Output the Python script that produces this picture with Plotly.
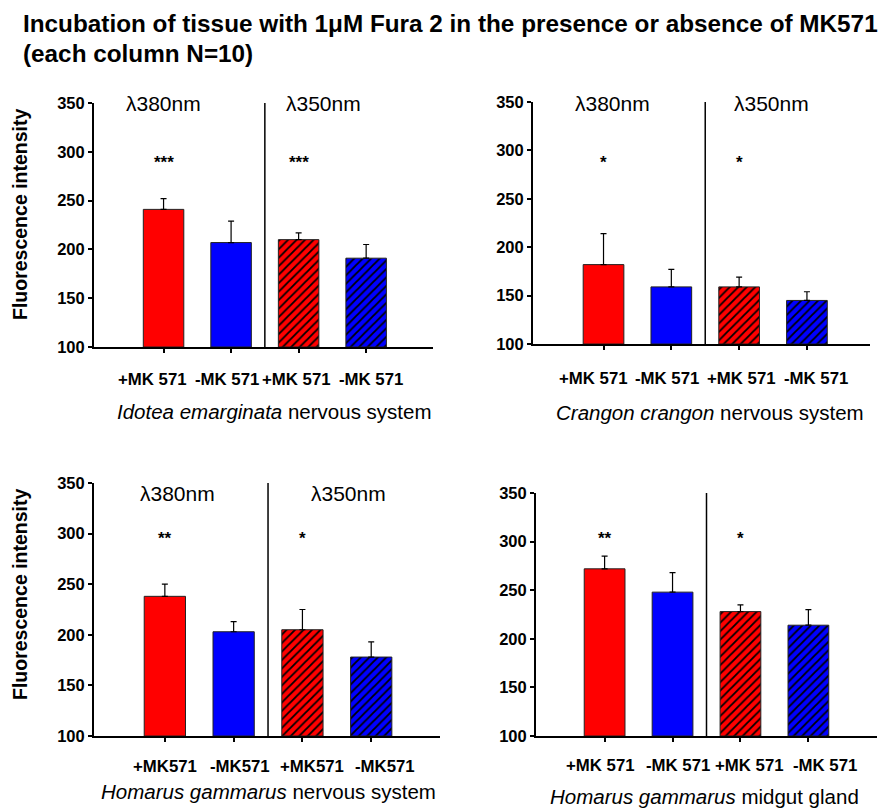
import plotly.graph_objects as go

# ---------------- data ----------------
labels_spaced = ["+MK 571", "-MK 571", "+MK 571", "-MK 571"]
labels_tight = ["+MK571", "-MK571", "+MK571", "-MK571"]

idotea_vals = [241, 207, 210, 191]
idotea_err = [11, 22, 7, 14]

crangon_vals = [182, 159, 159, 145]
crangon_err = [32, 18, 10, 9]

homarus_ns_vals = [238, 203, 205, 178]
homarus_ns_err = [12, 10, 20, 15]

homarus_mg_vals = [272, 248, 228, 214]
homarus_mg_err = [13, 20, 7, 16]

stars_idotea = ["***", "***"]
stars_crangon = ["*", "*"]
stars_homarus_ns = ["**", "*"]
stars_homarus_mg = ["**", "*"]

captions = [
    "<i>Idotea emarginata</i> nervous system",
    "<i>Crangon crangon</i> nervous system",
    "<i>Homarus gammarus</i> nervous system",
    "<i>Homarus gammarus</i> midgut gland",
]

bar_colors = ["#FF0000", "#0000FF", "#FF0000", "#0000FF"]
hatched = [False, False, True, True]

FONT = "Liberation Sans, Arial, Helvetica, sans-serif"

W, H = 889, 809
OFF = 8  # page body margin

def px_x(x):
    return (x - OFF) / W

def px_y(y):
    return 1 - (y - OFF) / H

panels = [
    dict(vals=idotea_vals, err=idotea_err, labels=labels_spaced, stars=stars_idotea,
         xdom=(94, 433), ydom=(103, 347), xr=(-1.03, 3.99),
         lab_shift=[-11, -4, -2, 5], lab_dy=32,
         lam=[(0.0, 349), (2.37, 349)], star_y=289, cap=(274, 411)),
    dict(vals=crangon_vals, err=crangon_err, labels=labels_spaced, stars=stars_crangon,
         xdom=(533, 870), ydom=(102, 344), xr=(-1.04, 3.93),
         lab_shift=[-10, -4, 2, 9], lab_dy=34,
         lam=[(0.13, 348), (2.47, 348)], star_y=288, cap=(710, 412)),
    dict(vals=homarus_ns_vals, err=homarus_ns_err, labels=labels_tight, stars=stars_homarus_ns,
         xdom=(94, 440), ydom=(483, 736), xr=(-1.03, 4.0),
         lab_shift=[0, 6, 10, 14], lab_dy=30,
         lam=[(0.19, 340), (2.67, 340)], star_y=295, cap=(268, 791)),
    dict(vals=homarus_mg_vals, err=homarus_mg_err, labels=labels_spaced, stars=stars_homarus_mg,
         xdom=(536, 877), ydom=(493, 736), xr=(-1.01, 4.01),
         lab_shift=[-4, 5, 9, 17], lab_dy=29,
         lam=[(0.19, 351), (2.53, 351)], star_y=303, cap=(704, 796)),
]

fig = go.Figure()
layout = dict(
    template="none",
    width=W, height=H,
    margin=dict(l=0, r=0, t=0, b=0, pad=0),
    paper_bgcolor="white", plot_bgcolor="white",
    showlegend=False,
    barmode="overlay",
    font=dict(family=FONT, color="black"),
)
annotations = []
shapes = []

for i, p in enumerate(panels):
    n = "" if i == 0 else str(i + 1)
    xa, ya = "x" + n, "y" + n
    xs = list(range(len(p["vals"])))
    for j in xs:
        pattern = dict(shape="/", fgcolor="black", bgcolor=bar_colors[j], fillmode="replace",
                       size=6, solidity=0.3) if hatched[j] else dict(shape="")
        fig.add_trace(go.Bar(
            x=[j], y=[p["vals"][j] - 100], base=100,
            width=0.6,
            marker=dict(color=bar_colors[j], line=dict(color="#222222", width=1),
                        pattern=pattern),
            error_y=dict(type="data", symmetric=False, array=[p["err"][j]],
                         arrayminus=[0], color="black", thickness=1.2, width=3),
            xaxis=xa, yaxis=ya, hoverinfo="skip",
        ))
    layout["xaxis" + n] = dict(
        domain=[px_x(p["xdom"][0]), px_x(p["xdom"][1])],
        range=list(p["xr"]), anchor=ya, automargin=False,
        tickmode="array", tickvals=xs, showticklabels=False,
        showline=True, linecolor="black", linewidth=2,
        ticks="outside", ticklen=4, tickwidth=1.5, tickcolor="black",
        showgrid=False, zeroline=False, fixedrange=True,
    )
    layout["yaxis" + n] = dict(
        domain=[px_y(p["ydom"][1]), px_y(p["ydom"][0])],
        range=[100, 350], anchor=xa, automargin=False,
        tickmode="array", tickvals=[100, 150, 200, 250, 300, 350],
        showline=True, linecolor="black", linewidth=2,
        ticks="outside", ticklen=4, tickwidth=1.5, tickcolor="black",
        tickfont=dict(family=FONT, size=16.5, color="black", weight="bold"),
        showgrid=False, zeroline=False, fixedrange=True,
    )
    # category labels
    for j, (lab, sh) in enumerate(zip(p["labels"], p["lab_shift"])):
        annotations.append(dict(xref=xa, yref=ya, x=j, y=100, xshift=sh, yshift=-p["lab_dy"],
                                text=lab, showarrow=False, xanchor="center", yanchor="middle",
                                font=dict(family=FONT, size=16.8, color="black", weight="bold")))
    # separator between wavelengths
    shapes.append(dict(type="line", xref=xa, yref=ya, x0=1.5, x1=1.5, y0=100, y1=352,
                       line=dict(color="black", width=1.5)))
    # wavelength labels
    for (lx, ly), txt in zip(p["lam"], ["λ380nm", "λ350nm"]):
        annotations.append(dict(xref=xa, yref=ya, x=lx, y=ly, text=txt, showarrow=False,
                                xanchor="center", yanchor="middle",
                                font=dict(family=FONT, size=21, color="black")))
    # significance stars
    for sx, st in zip([0, 2], p["stars"]):
        annotations.append(dict(xref=xa, yref=ya, x=sx, y=p["star_y"], text=st, showarrow=False,
                                xanchor="center", yanchor="middle",
                                font=dict(family=FONT, size=17, color="black", weight="bold")))
    # caption
    annotations.append(dict(xref="paper", yref="paper", x=px_x(p["cap"][0]), y=px_y(p["cap"][1]),
                            text=captions[i], showarrow=False, xanchor="center", yanchor="middle",
                            font=dict(family=FONT, size=20.5, color="black")))

# y-axis titles
for cy in [215, 595]:
    annotations.append(dict(xref="paper", yref="paper", x=px_x(20), y=px_y(cy),
                            text="Fluorescence intensity", textangle=-90, showarrow=False,
                            xanchor="center", yanchor="middle",
                            font=dict(family=FONT, size=19.5, color="black", weight="bold")))

# title (two lines)
annotations.append(dict(xref="paper", yref="paper", x=px_x(21), y=px_y(24),
                        text="Incubation of tissue with 1μM Fura 2 in the presence or absence of MK571",
                        showarrow=False, xanchor="left", yanchor="middle",
                        font=dict(family=FONT, size=24.3, color="black", weight="bold")))
annotations.append(dict(xref="paper", yref="paper", x=px_x(21), y=px_y(54),
                        text="(each column N=10)",
                        showarrow=False, xanchor="left", yanchor="middle",
                        font=dict(family=FONT, size=24.3, color="black", weight="bold")))

layout["annotations"] = annotations
layout["shapes"] = shapes
fig.update_layout(**layout)
fig.write_html("out.html")
